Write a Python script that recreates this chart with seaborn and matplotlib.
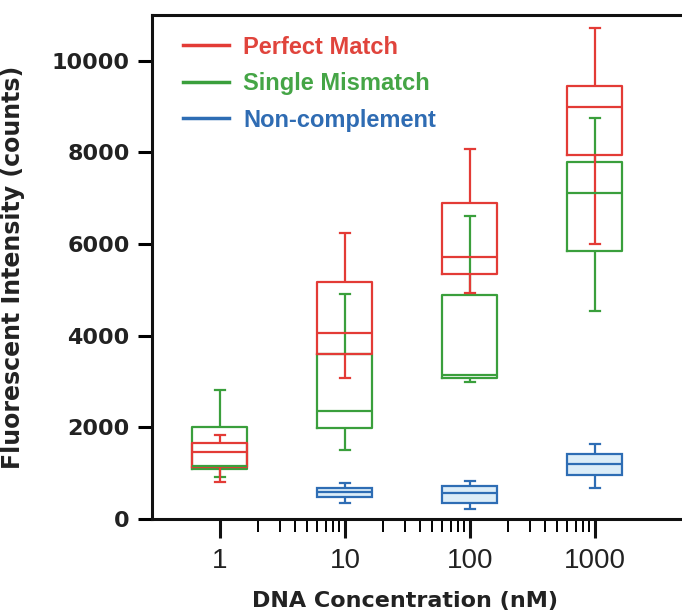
import numpy as np
import pandas as pd
import matplotlib
matplotlib.use("Agg")
import matplotlib.pyplot as plt
from matplotlib.lines import Line2D
from matplotlib.ticker import FixedLocator, NullFormatter
import seaborn as sns

# ---- data (five-number summaries: min, q1, median, q3, max) ----
concentrations = [1, 10, 100, 1000]
series_names = ["Perfect Match", "Single Mismatch", "Non-complement"]

perfect_match = [
    [810, 1130, 1460, 1660, 1830],
    [3070, 3600, 4055, 5170, 6250],
    [4930, 5340, 5710, 6890, 8070],
    [6000, 7950, 9000, 9440, 10710],
]
single_mismatch = [
    [920, 1100, 1150, 2010, 2820],
    [1500, 1980, 2360, 3600, 4910],
    [2985, 3070, 3140, 4890, 6615],
    [4550, 5840, 7110, 7800, 8750],
]
non_complement_conc = [10, 100, 1000]
non_complement = [
    [355, 475, 580, 685, 780],
    [220, 355, 560, 720, 830],
    [685, 960, 1195, 1410, 1630],
]

x_ticks = [1, 10, 100, 1000]
x_ticklabels = ["1", "10", "100", "1000"]
y_ticks = [0, 2000, 4000, 6000, 8000, 10000]

colors = {"Perfect Match": "#e33b36", "Single Mismatch": "#3a9f3c", "Non-complement": "#2e6db4"}
text_colors = {"Perfect Match": "#e0443c", "Single Mismatch": "#45a546", "Non-complement": "#2f6cb3"}


def to_frame(concs, summaries):
    rows = []
    for c, vals in zip(concs, summaries):
        for v in vals:
            rows.append({"conc": c, "value": v})
    return pd.DataFrame(rows)


df_pm = to_frame(concentrations, perfect_match)
df_sm = to_frame(concentrations, single_mismatch)
df_nc = to_frame(non_complement_conc, non_complement)

fig = plt.figure(figsize=(6.82, 6.15), dpi=100)
ax = fig.add_axes([0.2229, 0.1561, 0.7771, 0.8195])

common = dict(x="conc", y="value", native_scale=True, log_scale=(True, False),
              whis=(0, 100), width=0.44, linewidth=1.6, showfliers=False, ax=ax)

sns.boxplot(data=df_nc, fill=True, color="#dcedf8", linecolor=colors["Non-complement"],
            saturation=1, capwidths=[0.08] * len(non_complement_conc), **common)
sns.boxplot(data=df_sm, fill=False, color=colors["Single Mismatch"],
            capwidths=[0.08] * len(concentrations), **common)
sns.boxplot(data=df_pm, fill=False, color=colors["Perfect Match"],
            capwidths=[0.08] * len(concentrations), **common)

ax.set_xscale("log")
ax.set_xlim(0.286, 4966)
ax.set_ylim(0, 11000)
ax.set_xticks(x_ticks)
ax.set_xticklabels(x_ticklabels)
minor = [m * 10 ** k for k in range(0, 3) for m in range(2, 10)]
ax.xaxis.set_minor_locator(FixedLocator(minor))
ax.xaxis.set_minor_formatter(NullFormatter())
ax.set_yticks(y_ticks)
ax.set_yticklabels([str(v) for v in y_ticks])

for s in ["left", "bottom", "top"]:
    ax.spines[s].set_linewidth(2.2)
    ax.spines[s].set_color("#111111")
ax.spines["right"].set_visible(False)

ax.tick_params(axis="x", which="major", length=14, width=2.2, direction="out",
               labelsize=20, pad=7, colors="#111111")
ax.tick_params(axis="x", which="minor", length=9, width=1.4, direction="out")
ax.tick_params(axis="y", which="major", length=10, width=2.2, direction="out", pad=6)
for lab in ax.get_xticklabels():
    lab.set_fontfamily("Liberation Sans")
    lab.set_color("#222222")
for lab in ax.get_yticklabels():
    lab.set_fontfamily("DejaVu Sans")
    lab.set_fontweight("bold")
    lab.set_fontsize(16)
    lab.set_color("#222222")

ax.set_xlabel("DNA Concentration (nM)", fontfamily="DejaVu Sans", fontweight="bold",
              fontsize=16, color="#222222")
ax.xaxis.set_label_coords(0.477, -0.143)
ax.set_ylabel("Fluorescent Intensity (counts)", fontfamily="DejaVu Sans",
              fontweight="bold", fontsize=17, color="#222222")
ax.yaxis.set_label_coords(-0.24, 0.5)

handles = [Line2D([], [], color=colors[n], lw=2.5) for n in series_names]
leg = ax.legend(handles, series_names, loc="upper left", bbox_to_anchor=(0.0585, 0.959),
                frameon=False, borderaxespad=0, borderpad=0, handlelength=1.95,
                handletextpad=0.6, labelspacing=0.57,
                prop={"family": "Liberation Sans", "weight": "bold", "size": 17})
for t, n in zip(leg.get_texts(), series_names):
    t.set_color(text_colors[n])

fig.savefig("out.png", dpi=100)
